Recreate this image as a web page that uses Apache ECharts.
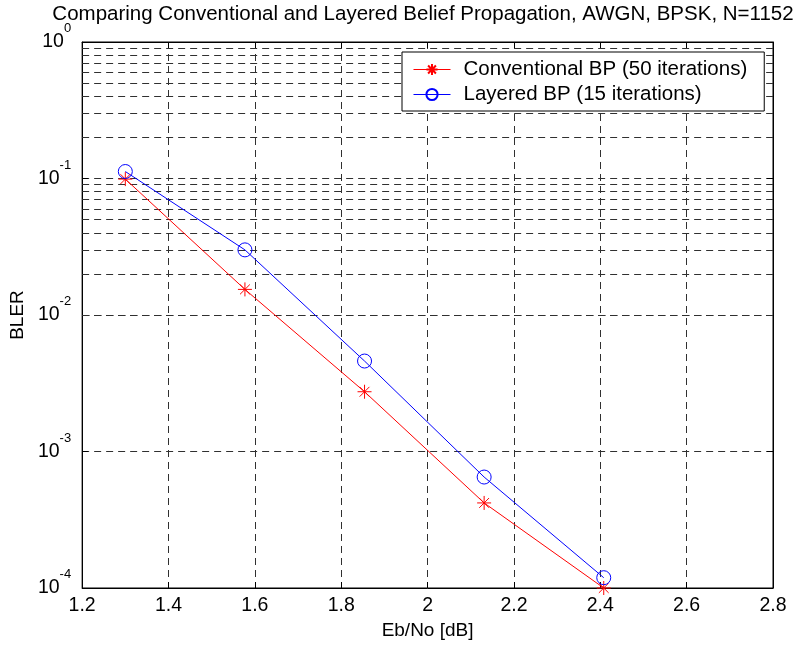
<!DOCTYPE html>
<html>
<head>
<meta charset="utf-8">
<script src="https://cdn.jsdelivr.net/npm/echarts@6/dist/echarts.min.js"></script>
<style>
  html, body { margin: 0; padding: 0; background: #fff; }
  #chart { width: 801px; height: 645px; }
</style>
</head>
<body>
<div id="chart"></div>
<script>
// Eb/No points (dB)
const ebno = [1.3, 1.577, 1.854, 2.131, 2.408];
// block error rates
const bpConventional = [0.099, 0.0154, 0.00274, 0.00042, 0.0001];
const bpLayered = [0.1125, 0.030, 0.0046, 0.00065, 0.000119];
const seriesNames = ['Conventional BP (50 iterations)', 'Layered BP (15 iterations)'];
// minor log grid lines: 2..9 x 10^k
const decades = [1e-4, 1e-3, 1e-2, 1e-1];
const minorSteps = [2, 3, 4, 5, 6, 7, 8, 9];

const FONT = '"Liberation Sans", Arial, Helvetica, sans-serif';
const gridDash = { color: '#303030', width: 1, type: [7, 5] };

const minorLines = [];
decades.forEach(d => minorSteps.forEach(m => minorLines.push({ yAxis: +(d * m).toPrecision(3) })));

// MATLAB style '*' marker
const star = 'path://M0,-10L0,10M-10,0L10,0M-7,-7L7,7M-7,7L7,-7';

const chart = echarts.init(document.getElementById('chart'));
chart.setOption({
  animation: false,
  textStyle: { fontFamily: FONT },
  title: {
    text: 'Comparing Conventional and Layered Belief Propagation, AWGN, BPSK, N=1152',
    left: 423, top: 4, textAlign: 'center', padding: 0,
    textStyle: { fontSize: 20.5, fontWeight: 'normal', color: '#000', fontFamily: FONT }
  },
  grid: { left: 82, right: 28, top: 42, bottom: 57, show: true, borderColor: '#000', borderWidth: 1 },
  legend: {
    data: seriesNames,
    orient: 'vertical',
    left: 402, top: 52, z: 20,
    padding: [7, 17, 6, 11],
    itemGap: 4,
    itemWidth: 37, itemHeight: 14,
    lineStyle: { width: 1 },
    backgroundColor: '#fff',
    borderColor: '#000', borderWidth: 1, borderRadius: 0,
    textStyle: { fontSize: 20.5, lineHeight: 20, color: '#000', fontFamily: FONT, padding: [0, 0, 0, 8] }
  },
  xAxis: [{
    type: 'value', min: 1.2, max: 2.8, interval: 0.2,
    name: 'Eb/No [dB]', nameLocation: 'middle', nameGap: 30,
    nameTextStyle: { fontSize: 19, color: '#000', fontFamily: FONT },
    axisLine: { lineStyle: { color: '#000', width: 1 } },
    axisTick: { inside: true, length: 6, lineStyle: { color: '#000' } },
    axisLabel: { fontSize: 19.5, color: '#000', margin: 8, fontFamily: FONT,
      formatter: v => String(+v.toFixed(1)) },
    splitLine: { show: true, lineStyle: gridDash }
  }, {
    type: 'value', min: 1.2, max: 2.8, interval: 0.2, position: 'top',
    axisLine: { lineStyle: { color: '#000' } },
    axisTick: { inside: true, length: 6, lineStyle: { color: '#000' } },
    axisLabel: { show: false }, splitLine: { show: false }
  }],
  yAxis: [{
    type: 'log', logBase: 10, min: 0.0001, max: 1,
    name: 'BLER', nameLocation: 'middle', nameGap: 54,
    nameTextStyle: { fontSize: 19, color: '#000', fontFamily: FONT },
    axisLine: { show: true, lineStyle: { color: '#000', width: 1 } },
    axisTick: { show: true, inside: true, length: 6, lineStyle: { color: '#000' } },
    axisLabel: {
      margin: 11, color: '#000',
      formatter: v => '{a|10}{b|' + Math.round(Math.log10(v)) + '}',
      rich: {
        a: { fontSize: 19.5, lineHeight: 40, verticalAlign: 'middle', fontFamily: FONT, color: '#000' },
        b: { fontSize: 13, lineHeight: 14, verticalAlign: 'top', fontFamily: FONT, color: '#000' }
      }
    },
    splitLine: { show: true, lineStyle: gridDash }
  }, {
    type: 'log', logBase: 10, min: 0.0001, max: 1, position: 'right',
    axisLine: { show: true, lineStyle: { color: '#000' } },
    axisTick: { show: true, inside: true, length: 6, lineStyle: { color: '#000' } },
    axisLabel: { show: false }, splitLine: { show: false }
  }],
  series: [
    {
      name: 'minor grid', type: 'line', data: [], z: 1, silent: true,
      markLine: {
        silent: true, symbol: ['none', 'none'], animation: false, z: 1,
        label: { show: false },
        lineStyle: gridDash,
        emphasis: { disabled: true },
        data: minorLines
      }
    },
    {
      name: seriesNames[0], type: 'line', z: 3,
      data: ebno.map((x, i) => [x, bpConventional[i]]),
      symbol: star, symbolSize: 14, showSymbol: true, clip: false,
      lineStyle: { color: '#ff0000', width: 1 },
      itemStyle: { color: '#ff0000', borderColor: '#ff0000', borderWidth: 1 }
    },
    {
      name: seriesNames[1], type: 'line', z: 3,
      data: ebno.map((x, i) => [x, bpLayered[i]]),
      symbol: 'circle', symbolSize: 14, showSymbol: true, clip: false,
      lineStyle: { color: '#0000ff', width: 1 },
      itemStyle: { color: 'none', borderColor: '#0000ff', borderWidth: 1 }
    }
  ]
});
</script>
</body>
</html>
